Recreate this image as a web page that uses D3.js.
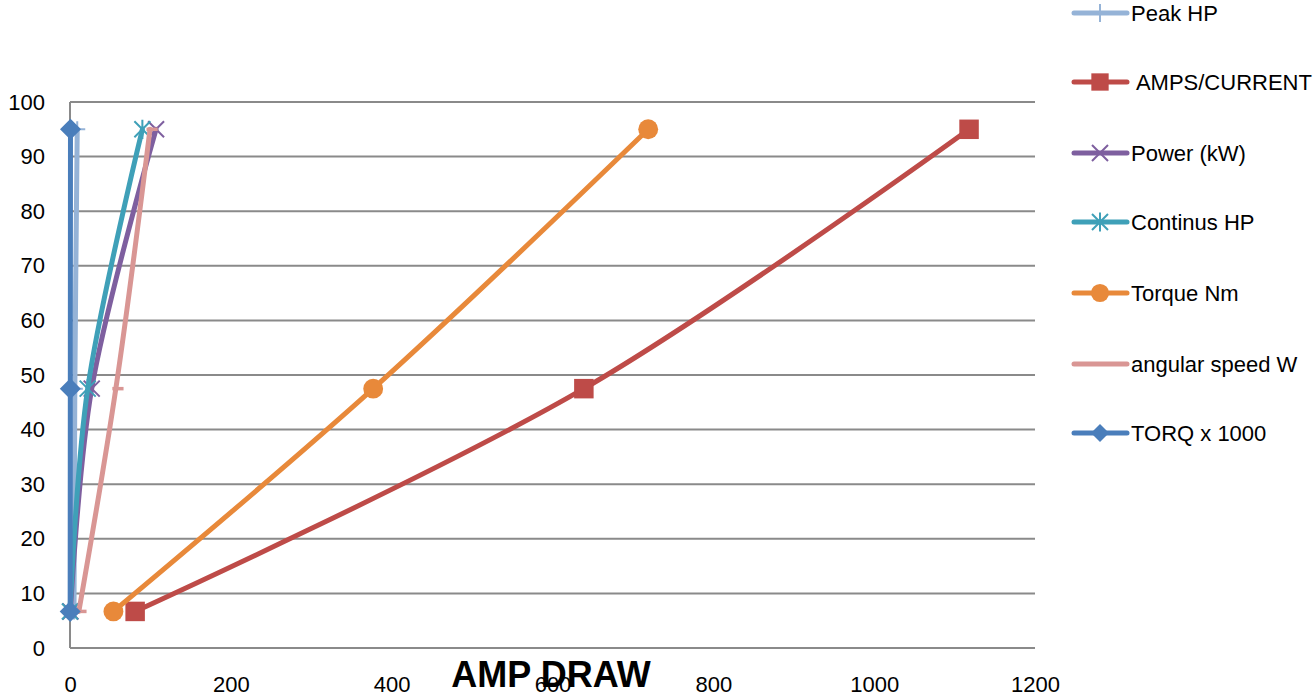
<!DOCTYPE html>
<html>
<head>
<meta charset="utf-8">
<script src="https://cdn.jsdelivr.net/npm/d3@7/dist/d3.min.js"></script>
<style>
  html, body { margin: 0; padding: 0; background: #fff; }
  svg { display: block; }
  text { font-family: "Liberation Sans", Arial, sans-serif; fill: #000; }
</style>
</head>
<body>
<svg id="chart" width="1315" height="697"></svg>
<script>
// ---- data ----
const yLevels = [6.7, 47.5, 95];
const peakHP = [5, 6, 9];
const ampsCurrent = [81, 639, 1118];
const powerKW = [0.5, 27, 107];
const continusHP = [0, 22, 90];
const torqueNm = [54, 377, 719];
const angularSpeedW = [11, 57, 99.5];
const torqX1000 = [0.2, 0.4, 0.6];

const seriesNames = ["Peak HP", " AMPS/CURRENT", "Power (kW)", "Continus HP", "Torque Nm", "angular speed W", "TORQ x 1000"];
const seriesValues = [peakHP, ampsCurrent, powerKW, continusHP, torqueNm, angularSpeedW, torqX1000];
const seriesColors = ["#95B3D7", "#BE4B48", "#7E5F9F", "#3FA0B8", "#E8893A", "#D99694", "#4A7EBB"];
const seriesMarkers = ["plus", "square", "x", "star", "circle", "dash", "diamond"];

const xTicks = [0, 200, 400, 600, 800, 1000, 1200];
const yTicks = [0, 10, 20, 30, 40, 50, 60, 70, 80, 90, 100];
const xTitle = "AMP DRAW";

// ---- layout ----
const svg = d3.select("#chart");
const x = d3.scaleLinear().domain([0, 1200]).range([70, 1035]);
const y = d3.scaleLinear().domain([0, 100]).range([648, 102]);

// gridlines
const grid = svg.append("g");
grid.selectAll("line.h").data(yTicks).join("line")
  .attr("x1", x(0)).attr("x2", x(1200))
  .attr("y1", d => y(d)).attr("y2", d => y(d))
  .attr("stroke", "#8a8a8a").attr("stroke-width", 2);
grid.append("line")
  .attr("x1", x(0)).attr("x2", x(0))
  .attr("y1", y(100)).attr("y2", y(0))
  .attr("stroke", "#8a8a8a").attr("stroke-width", 2);

// axes labels via d3 axes
const yAxis = d3.axisLeft(y).tickValues(yTicks).tickSize(0).tickPadding(25).tickFormat(d3.format("d"));
const gy = svg.append("g").attr("transform", `translate(${x(0)},0)`).call(yAxis);
gy.select(".domain").remove();
gy.selectAll("text").attr("font-size", 22).attr("font-family", "Liberation Sans, Arial, sans-serif").attr("fill", "#000");

const xAxis = d3.axisBottom(x).tickValues(xTicks).tickSize(0).tickPadding(28).tickFormat(d3.format("d"));
const gx = svg.append("g").attr("transform", `translate(0,${y(0)})`).call(xAxis);
gx.select(".domain").remove();
gx.selectAll("text").attr("font-size", 22).attr("font-family", "Liberation Sans, Arial, sans-serif").attr("fill", "#000");

// markers
function markerPath(type, s) {
  switch (type) {
    case "plus": return `M${-s},0H${s}M0,${-s}V${s}`;
    case "x": return `M${-s},${-s}L${s},${s}M${-s},${s}L${s},${-s}`;
    case "star": return `M${-s},${-s}L${s},${s}M${-s},${s}L${s},${-s}M0,${-s*1.2}V${s*1.2}`;
    case "dash": return `M${-s*0.5},0H${s*1.1}`;
  }
  return null;
}
function drawMarker(g, type, color, cx, cy, legend) {
  if (type === "square") {
    g.append("path").attr("d", d3.symbol(d3.symbolSquare, legend ? 300 : 380)())
      .attr("transform", `translate(${cx},${cy})`).attr("fill", color);
  } else if (type === "circle") {
    g.append("path").attr("d", d3.symbol(d3.symbolCircle, legend ? 260 : 310)())
      .attr("transform", `translate(${cx},${cy})`).attr("fill", color);
  } else if (type === "diamond") {
    const s = legend ? 9 : 10.5;
    g.append("path").attr("d", `M0,${-s}L${s},0L0,${s}L${-s},0Z`)
      .attr("transform", `translate(${cx},${cy})`).attr("fill", color);
  } else if (type === "plus" && legend) {
    g.append("path").attr("d", `M0,-9V9`).attr("transform", `translate(${cx},${cy})`)
      .attr("stroke", color).attr("stroke-width", 2).attr("fill", "none");
  } else {
    const s = type === "dash" ? 7 : 8;
    g.append("path").attr("d", markerPath(type, legend ? 8 : s))
      .attr("transform", `translate(${cx},${cy})`)
      .attr("stroke", color).attr("stroke-width", type === "dash" ? 3.5 : 2).attr("fill", "none");
  }
}

const line = d3.line().curve(d3.curveCatmullRom.alpha(0.5))
  .x(d => x(d[0])).y(d => y(d[1]));

const plot = svg.append("g");
seriesValues.forEach((vals, i) => {
  const pts = vals.map((v, j) => [v, yLevels[j]]);
  const g = plot.append("g");
  g.append("path").attr("d", line(pts))
    .attr("fill", "none").attr("stroke", seriesColors[i]).attr("stroke-width", 5)
    .attr("stroke-linecap", "round").attr("stroke-linejoin", "round");
  pts.forEach(p => drawMarker(g, seriesMarkers[i], seriesColors[i], x(p[0]), y(p[1]), false));
});

// legend
const legend = svg.append("g");
const legendY = [13, 82, 153, 222, 293, 364, 433];
seriesNames.forEach((name, i) => {
  const g = legend.append("g");
  const cy = legendY[i];
  g.append("line").attr("x1", 1074).attr("x2", 1127).attr("y1", cy).attr("y2", cy)
    .attr("stroke", seriesColors[i]).attr("stroke-width", 5).attr("stroke-linecap", "round");
  if (seriesMarkers[i] !== "dash") drawMarker(g, seriesMarkers[i], seriesColors[i], 1100, cy, true);
  g.append("text").attr("x", 1131).attr("y", cy + 8).attr("font-size", 22)
    .attr("xml:space", "preserve").style("white-space", "pre").text(name);
});

// x title
svg.append("text").attr("x", 551).attr("y", 687).attr("text-anchor", "middle")
  .attr("font-size", 36).attr("font-weight", "bold").text(xTitle);
</script>
</body>
</html>
